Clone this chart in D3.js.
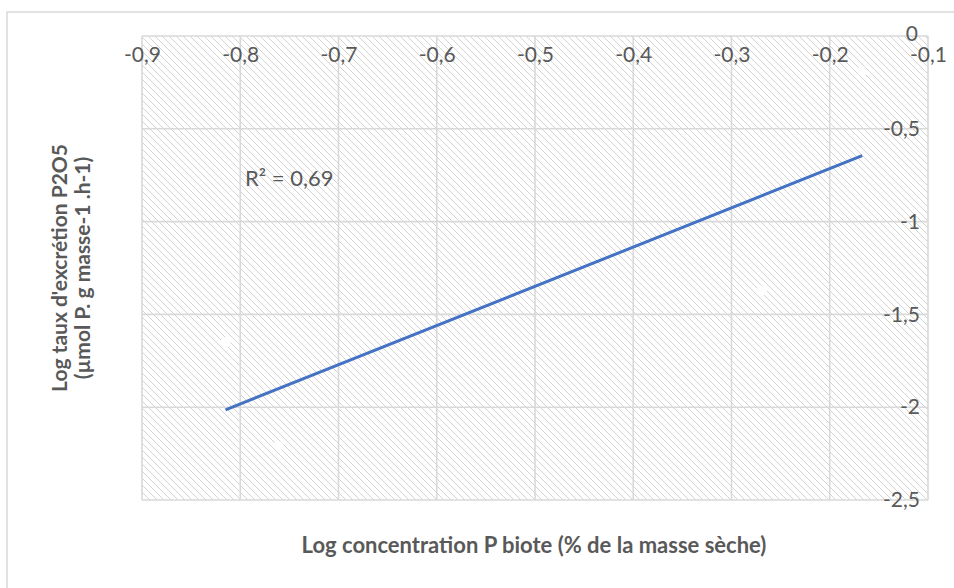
<!DOCTYPE html>
<html>
<head>
<meta charset="utf-8">
<script src="https://cdn.jsdelivr.net/npm/d3@7"></script>
<style>
  html, body { margin: 0; padding: 0; background: #fff; }
  svg { display: block; }
  text { font-family: Lato, "Open Sans", sans-serif; fill: #595959; }
</style>
</head>
<body>
<svg id="chart" width="954" height="588"></svg>
<script>
// Log phosphorus concentration of biota vs log P2O5 excretion rate
const concLog = [-0.815, -0.761, -0.269, -0.167];
const excretionLog = [-1.65, -2.21, -1.37, -0.19];
const xTicks = [-0.9, -0.8, -0.7, -0.6, -0.5, -0.4, -0.3, -0.2, -0.1];
const yTicks = [0, -0.5, -1, -1.5, -2, -2.5];
const r2Label = "R² = 0,69";
const xTitle = "Log concentration P biote (% de la masse sèche)";
const yTitleLines = ["Log taux d'excrétion P2O5", "(µmol P. g masse-1 .h-1)"];

const svg = d3.select("#chart");
const fmt = v => String(v).replace(".", ",");
const tickFont = 21;

const plot = { left: 142, right: 928, top: 36, bottom: 500 };
const x = d3.scaleLinear().domain([-0.9, -0.1]).range([plot.left, plot.right]);
const y = d3.scaleLinear().domain([0, -2.5]).range([plot.top, plot.bottom]);

// outer chart frame
svg.append("rect")
  .attr("x", 7).attr("y", 12).attr("width", 1000).attr("height", 1000)
  .attr("fill", "none").attr("stroke", "#d9d9d9").attr("stroke-width", 1.5);

// diagonal hatch fill of the plot area
const defs = svg.append("defs");
const pat = defs.append("pattern")
  .attr("id", "hatch").attr("patternUnits", "userSpaceOnUse")
  .attr("width", 7).attr("height", 7);
pat.append("path")
  .attr("d", "M0,0 L7,7 M-3.5,3.5 L3.5,10.5 M3.5,-3.5 L10.5,3.5")
  .attr("stroke", "#cfcfcf").attr("stroke-width", 0.9);

svg.append("rect")
  .attr("x", plot.left).attr("y", plot.top)
  .attr("width", plot.right - plot.left).attr("height", plot.bottom - plot.top)
  .attr("fill", "url(#hatch)");

// gridlines
const grid = svg.append("g").attr("stroke", "#d9d9d9").attr("stroke-width", 1.6);
grid.selectAll("line.v").data(xTicks).join("line")
  .attr("x1", d => x(d)).attr("x2", d => x(d))
  .attr("y1", plot.top).attr("y2", plot.bottom);
grid.selectAll("line.h").data(yTicks).join("line")
  .attr("y1", d => y(d)).attr("y2", d => y(d))
  .attr("x1", plot.left).attr("x2", plot.right);

// x axis along the top (y = 0)
const xAxis = d3.axisBottom(x).tickValues(xTicks).tickFormat(fmt).tickSize(0).tickPadding(11);
const gx = svg.append("g").attr("transform", `translate(0,${y(0)})`).call(xAxis);
gx.select(".domain").remove();
gx.selectAll("text").attr("font-size", tickFont).style("fill", "#595959")
  .attr("font-family", "Lato, sans-serif");

// y axis along the right (x = -0.1)
const yAxis = d3.axisLeft(y).tickValues(yTicks).tickFormat(fmt).tickSize(0).tickPadding(8);
const gy = svg.append("g").attr("transform", `translate(${x(-0.1)},0)`).call(yAxis);
gy.select(".domain").remove();
gy.selectAll("text").attr("font-size", tickFont).style("fill", "#595959")
  .attr("font-family", "Lato, sans-serif");
gy.selectAll(".tick").filter(d => d === 0).select("text").attr("x", -10).attr("dy", "0.2em");

// data points (white markers)
svg.append("g").selectAll("circle").data(concLog).join("circle")
  .attr("cx", d => x(d)).attr("cy", (d, i) => y(excretionLog[i]))
  .attr("r", 5).attr("fill", "#ffffff");

// least-squares trend line over the data range
const n = concLog.length;
const mx = d3.mean(concLog), my = d3.mean(excretionLog);
let sxy = 0, sxx = 0;
for (let i = 0; i < n; i++) {
  sxy += (concLog[i] - mx) * (excretionLog[i] - my);
  sxx += (concLog[i] - mx) ** 2;
}
const slope = sxy / sxx, intercept = my - slope * mx;
const x0 = d3.min(concLog), x1 = d3.max(concLog);
svg.append("line")
  .attr("x1", x(x0)).attr("y1", y(intercept + slope * x0))
  .attr("x2", x(x1)).attr("y2", y(intercept + slope * x1))
  .attr("stroke", "#4472c4").attr("stroke-width", 3).attr("stroke-linecap", "butt");

// R² annotation
svg.append("text").attr("x", 245).attr("y", 186).attr("font-size", 22).text(r2Label);

// axis titles
svg.append("text").attr("x", 534).attr("y", 553).attr("text-anchor", "middle")
  .attr("font-size", 22).attr("font-weight", "bold").text(xTitle);

const yt = svg.append("text").attr("transform", "translate(67,268) rotate(-90)")
  .attr("text-anchor", "middle").attr("font-size", 21).attr("font-weight", "bold");
yt.selectAll("tspan").data(yTitleLines).join("tspan")
  .attr("x", 0).attr("dy", (d, i) => i === 0 ? 0 : 23).text(d => d);
</script>
</body>
</html>
